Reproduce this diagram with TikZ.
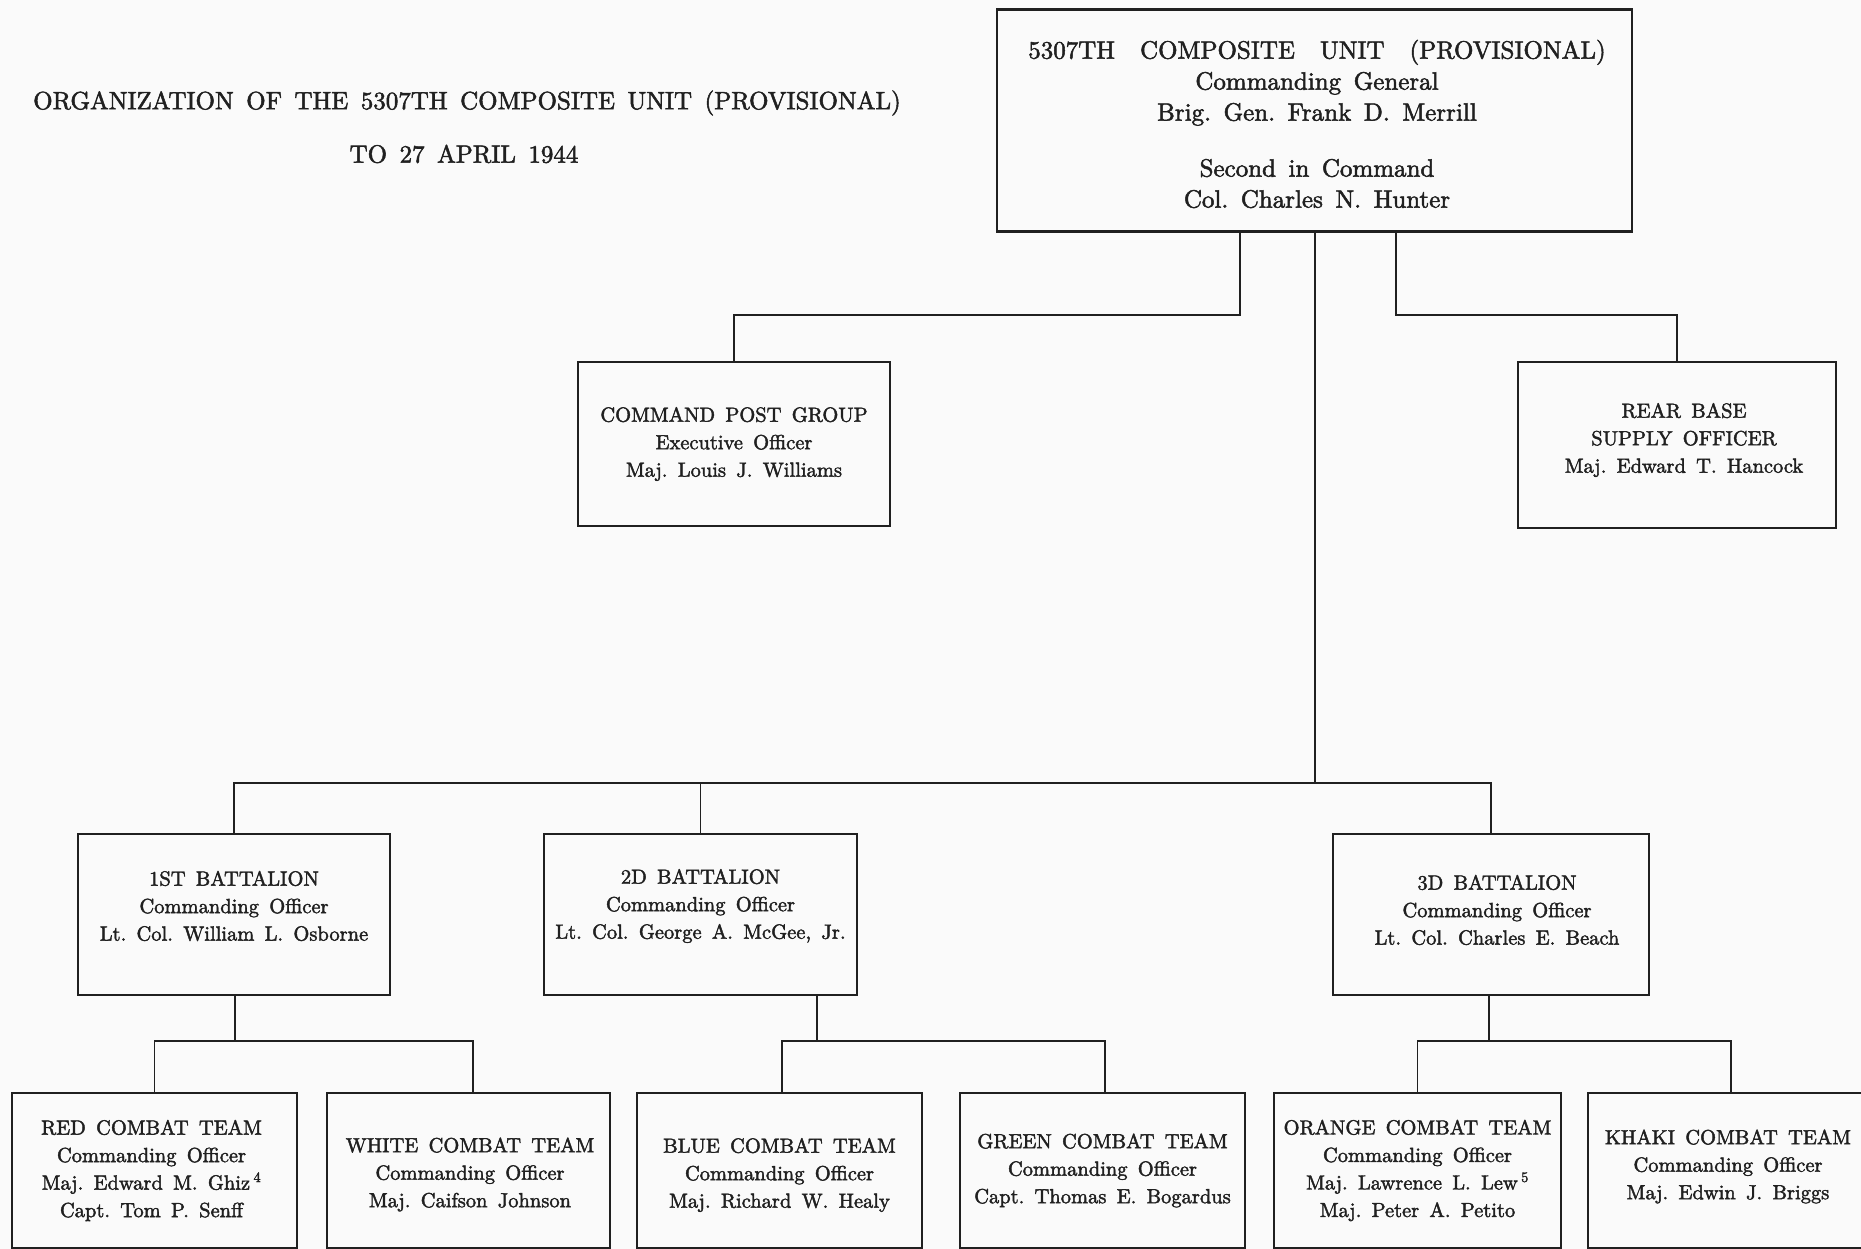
\documentclass[tikz,border=0pt]{standalone}
\usepackage{fontspec}
\setmainfont{lmroman10-regular}[Extension=.otf, FakeBold=2]
\definecolor{inkc}{RGB}{32,32,32}
\definecolor{paper}{RGB}{250,250,250}
\newcommand\boxfont{\fontsize{20.5}{27.5}\selectfont\frenchspacing\spaceskip=0.5em\relax}
\newcommand\bigboxfont{\fontsize{25}{31}\selectfont\frenchspacing\spaceskip=0.5em\relax}
\newcommand\titlefont{\fontsize{25}{30}\selectfont\frenchspacing\spaceskip=0.5em\relax}
\newcommand\wsp{\hspace{25pt}}
\begin{document}
\begin{tikzpicture}[x=1pt,y=-1pt,
  orgbox/.style={draw=inkc, line width=2.2pt, inner sep=0pt},
  wire/.style={draw=inkc, line width=1.7pt},
  boxtxt/.style={text=inkc, align=center, font=\boxfont, inner sep=0pt},
  bigtxt/.style={text=inkc, align=center, font=\bigboxfont, inner sep=0pt},
  titletxt/.style={text=inkc, align=center, font=\titlefont, inner sep=0pt},
  teambox/.style={orgbox, minimum width=285pt, minimum height=155pt}]
\fill[paper] (0,0) rectangle (1861,1249);
\clip (0,0) rectangle (1861,1249);

% title
\node[titletxt] (title1) at (467,103) {ORGANIZATION OF THE 5307TH COMPOSITE UNIT (PROVISIONAL)};
\node[titletxt] (title2) at (464,154) {TO 27 APRIL 1944};

% top box
\node[orgbox, minimum width=635pt, minimum height=222pt,
  label={[bigtxt, xshift=2.5pt, yshift=-3.5pt]center:{5307TH\wsp COMPOSITE\wsp UNIT\wsp (PROVISIONAL)\\Commanding General\\Brig. Gen. Frank D. Merrill\\[25pt]Second in Command\\Col. Charles N. Hunter}}]
  (top) at (1314.5,120.5) {};

% second level
\node[orgbox, minimum width=312pt, minimum height=164pt,
  label={[boxtxt]center:{COMMAND POST GROUP\\Executive Officer\\Maj. Louis J. Williams}}]
  (cp) at (734,444) {};
\node[orgbox, minimum width=318pt, minimum height=166pt,
  label={[boxtxt, xshift=7pt, yshift=5pt]center:{REAR BASE\\SUPPLY OFFICER\\Maj. Edward T. Hancock}}]
  (rear) at (1677,445) {};

% battalions
\node[orgbox, minimum width=312pt, minimum height=161pt,
  label={[boxtxt, yshift=8.5pt]center:{1ST BATTALION\\Commanding Officer\\Lt. Col. William L. Osborne}}]
  (b1) at (234,914.5) {};
\node[orgbox, minimum width=313pt, minimum height=161pt,
  label={[boxtxt, yshift=8.5pt]center:{2D BATTALION\\Commanding Officer\\Lt. Col. George A. McGee, Jr.}}]
  (b2) at (700.5,914.5) {};
\node[orgbox, minimum width=316pt, minimum height=161pt,
  label={[boxtxt, xshift=6pt, yshift=4.5pt]center:{3D BATTALION\\Commanding Officer\\Lt. Col. Charles E. Beach}}]
  (b3) at (1491,914.5) {};

% combat teams
\node[teambox, label={[boxtxt, xshift=-3pt]center:{RED COMBAT TEAM\\Commanding Officer\\Maj. Edward M. Ghiz\,\textsuperscript{4}\\Capt. Tom P. Senff}}]
  (red) at (154.5,1170.5) {};
\node[teambox, minimum width=283pt, label={[boxtxt, xshift=1.5pt, yshift=-4pt]center:{WHITE COMBAT TEAM\\Commanding Officer\\Maj. Caifson Johnson}}]
  (white) at (468.5,1170.5) {};
\node[teambox, label={[boxtxt, yshift=-4.5pt]center:{BLUE COMBAT TEAM\\Commanding Officer\\Maj. Richard W. Healy}}]
  (blue) at (779.5,1170.5) {};
\node[teambox, label={[boxtxt]center:{GREEN COMBAT TEAM\\Commanding Officer\\Capt. Thomas E. Bogardus}}]
  (green) at (1102.5,1170.5) {};
\node[teambox, minimum width=287pt, label={[boxtxt]center:{ORANGE COMBAT TEAM\\Commanding Officer\\Maj. Lawrence L. Lew\,\textsuperscript{5}\\Maj. Peter A. Petito}}]
  (orange) at (1417.5,1170.5) {};
\node[teambox, minimum width=286pt, label={[boxtxt, xshift=-3pt, yshift=4pt]center:{KHAKI COMBAT TEAM\\Commanding Officer\\Maj. Edwin J. Briggs}}]
  (khaki) at (1731,1170.5) {};

% junctions
\coordinate (jl) at (1240,315);
\coordinate (jr) at (1396,315);
\coordinate (jc) at (1315,783);
\coordinate (k1) at (235,1041);
\coordinate (k2) at (817,1041);
\coordinate (k3) at (1489,1041);

% connectors, top level
\draw[wire] (top.south -| jl) -- (jl) -| (cp.north);
\draw[wire] (top.south -| jr) -- (jr) -| (rear.north);
\draw[wire] (top.south -| jc) -- (jc);
\draw[wire] (b1.north) -- (b1.north |- jc) -- (b3.north |- jc) -- (b3.north);
\draw[wire] (b2.north) -- (b2.north |- jc);

% connectors, battalions to teams
\draw[wire] (b1.south -| k1) -- (k1);
\draw[wire] (red.north) |- (k1) -| ([xshift=4.5pt]white.north);
\draw[wire] (b2.south -| k2) -- (k2);
\draw[wire] ([xshift=2.5pt]blue.north) |- (k2) -| ([xshift=2.5pt]green.north);
\draw[wire] (b3.south -| k3) -- (k3);
\draw[wire] (orange.north) |- (k3) -| (khaki.north);
\end{tikzpicture}
\end{document}
